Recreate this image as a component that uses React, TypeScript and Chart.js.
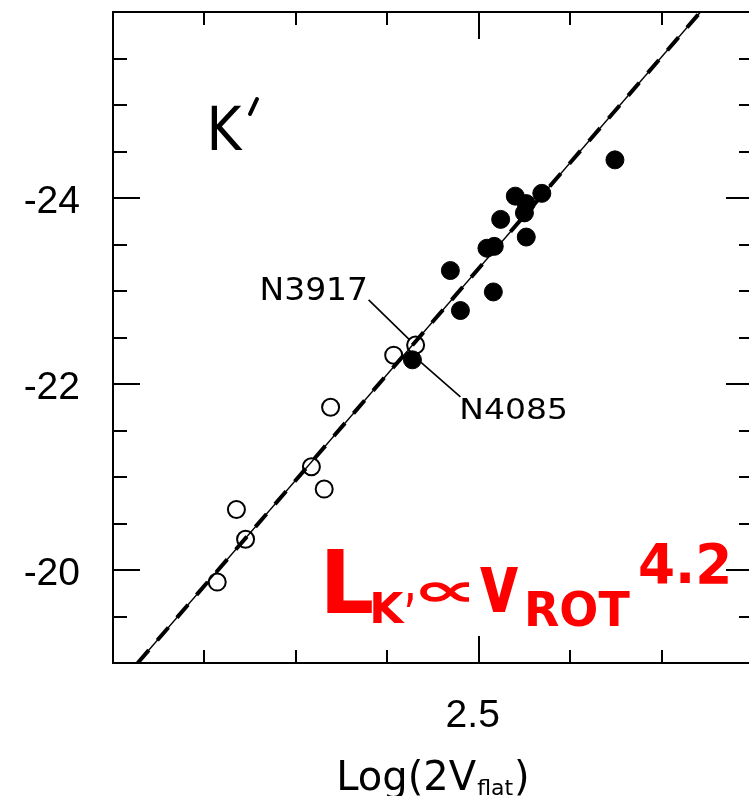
import { useEffect, useRef } from 'react';
import { Chart, registerables } from 'chart.js';

Chart.register(...registerables);

// Tully-Fisher relation in the K' band: absolute magnitude vs log of twice the flat rotation speed.
const openLogV = [2.214, 2.235, 2.245, 2.317, 2.331, 2.338, 2.407, 2.431];
const openMag = [-19.87, -20.65, -20.33, -21.11, -20.87, -21.75, -22.31, -22.42];

const filledLogV = [2.4275, 2.469, 2.480, 2.509, 2.516, 2.517, 2.524, 2.540, 2.550, 2.552, 2.552, 2.569, 2.649];
const filledMag = [-22.26, -23.22, -22.79, -23.46, -22.99, -23.48, -23.77, -24.02, -23.84, -23.94, -23.58, -24.05, -24.41];

// Fitted relation, endpoints where it crosses the frame
const fitLogV = [2.127, 2.7425];
const fitMag = [-19.0, -26.0];

// Named galaxies: the open circle N3917 and the filled circle N4085
const namedLabels = ['N3917', 'N4085'];
const namedLogV = [2.431, 2.4275];
const namedMag = [-22.42, -22.26];

const xLabelValues = [2.5];
const yLabelValues = [-24, -22, -20];

const xMin = 2.1;
const xMax = 2.8;
const yMin = -26;
const yMax = -19;

const toPoints = (xs: number[], ys: number[]) => xs.map((x, i) => ({ x, y: ys[i] }));

const near = (a: number, b: number) => Math.abs(a - b) < 1e-6;

// Fit a text run into a target box using its real ink bounds
function drawBox(ctx: CanvasRenderingContext2D, text: string, font: string, x0: number, y0: number, x1: number, y1: number) {
  ctx.font = font;
  ctx.textAlign = 'left';
  ctx.textBaseline = 'alphabetic';
  const m = ctx.measureText(text);
  const w = m.actualBoundingBoxLeft + m.actualBoundingBoxRight;
  const h = m.actualBoundingBoxAscent + m.actualBoundingBoxDescent;
  ctx.save();
  ctx.translate(x0, y0);
  ctx.scale((x1 - x0) / w, (y1 - y0) / h);
  ctx.fillText(text, m.actualBoundingBoxLeft, m.actualBoundingBoxAscent);
  ctx.restore();
}

const framePlugin = {
  id: 'frameAndNotes',
  afterDatasetsDraw(chart: any) {
    const { ctx, chartArea: a, scales } = chart;
    const xs = scales.x;
    const ys = scales.y;
    ctx.save();
    ctx.strokeStyle = '#000';
    ctx.fillStyle = '#000';
    ctx.lineWidth = 2;
    ctx.strokeRect(a.left, a.top, a.right - a.left, a.bottom - a.top);

    // inward ticks on all four sides
    ctx.lineWidth = 2;
    ctx.beginPath();
    xs.ticks.forEach((t: any) => {
      const px = Math.round(xs.getPixelForValue(t.value));
      const len = xLabelValues.some((v) => near(v, t.value)) ? 27 : 13;
      ctx.moveTo(px, a.bottom);
      ctx.lineTo(px, a.bottom - len);
      ctx.moveTo(px, a.top);
      ctx.lineTo(px, a.top + len);
    });
    ys.ticks.forEach((t: any) => {
      const py = Math.round(ys.getPixelForValue(t.value));
      const len = yLabelValues.some((v) => near(v, t.value)) ? 27 : 14;
      ctx.moveTo(a.left, py);
      ctx.lineTo(a.left + len, py);
      ctx.moveTo(a.right, py);
      ctx.lineTo(a.right - len, py);
    });
    ctx.stroke();

    // leader lines for the named galaxies
    const p0x = xs.getPixelForValue(namedLogV[0]);
    const p0y = ys.getPixelForValue(namedMag[0]);
    const p1x = xs.getPixelForValue(namedLogV[1]);
    const p1y = ys.getPixelForValue(namedMag[1]);
    ctx.lineWidth = 1.6;
    ctx.beginPath();
    ctx.moveTo(p0x - 47, p0y - 45);
    ctx.lineTo(p0x - 6, p0y - 5);
    ctx.moveTo(p1x + 8, p1y + 2);
    ctx.lineTo(p1x + 48, p1y + 37);
    ctx.stroke();

    const lblFont = "32px 'DejaVu Sans'";
    drawBox(ctx, namedLabels[0], lblFont, p0x - 153, p0y - 68, p0x - 50, p0y - 45);
    drawBox(ctx, namedLabels[1], lblFont, p1x + 50, p1y + 38, p1x + 153, p1y + 59);

    // band label
    drawBox(ctx, 'K', "60px 'DejaVu Sans'", a.left + 98, a.top + 93, a.left + 130, a.top + 138);
    ctx.save();
    ctx.lineWidth = 4;
    ctx.lineCap = 'round';
    ctx.beginPath();
    ctx.moveTo(a.left + 144, a.top + 87);
    ctx.lineTo(a.left + 137, a.top + 102);
    ctx.stroke();
    ctx.restore();

    // axis title with subscript
    const cx = (a.left + a.right) / 2;
    const base = 790;
    const big = "40px 'DejaVu Sans'";
    const small = "22px 'DejaVu Sans'";
    ctx.textBaseline = 'alphabetic';
    ctx.textAlign = 'left';
    ctx.font = big;
    const w1 = ctx.measureText('Log(2V').width;
    const w3 = ctx.measureText(')').width;
    ctx.font = small;
    const w2 = ctx.measureText('flat').width;
    let tx = cx - (w1 + w2 + w3 + 2) / 2;
    ctx.font = big;
    ctx.fillText('Log(2V', tx, base);
    tx += w1 + 1;
    ctx.font = small;
    ctx.fillText('flat', tx, base + 5);
    tx += w2 + 1;
    ctx.font = big;
    ctx.fillText(')', tx, base);

    // red scaling-law annotation
    ctx.fillStyle = '#ff0000';
    const rf = "bold 80px 'DejaVu Sans'";
    const L = a.left;
    const T = a.top;
    drawBox(ctx, 'L', rf, L + 214, T + 536, L + 259, T + 601);
    drawBox(ctx, 'K', rf, L + 260, T + 580, L + 292, T + 611);
    drawBox(ctx, '\u2019', rf, L + 294, T + 581, L + 300, T + 595);
    drawBox(ctx, '\u221D', rf, L + 307, T + 570, L + 357, T + 590);
    drawBox(ctx, 'v', rf, L + 367, T + 555, L + 405, T + 600);
    drawBox(ctx, 'ROT', rf, L + 415, T + 578, L + 517, T + 615);
    drawBox(ctx, '4.2', rf, L + 527, T + 530, L + 615, T + 571);
    ctx.restore();
  },
};

// Keep the plot frame where it belongs: no extra room reserved for edge labels
const noEdgePadding = (axis: any) => {
  axis.paddingTop = 0;
  axis.paddingBottom = 0;
  axis.paddingLeft = 0;
  axis.paddingRight = 0;
};

export default function App() {
  const ref = useRef<HTMLCanvasElement | null>(null);

  useEffect(() => {
    if (!ref.current) return;
    const chart = new Chart(ref.current, {
      type: 'scatter',
      data: {
        datasets: [
          {
            label: 'filled',
            data: toPoints(filledLogV, filledMag),
            pointStyle: 'circle',
            pointRadius: 9,
            pointBorderWidth: 1,
            pointBackgroundColor: '#000',
            pointBorderColor: '#000',
          },
          {
            label: 'open',
            data: toPoints(openLogV, openMag),
            pointStyle: 'circle',
            pointRadius: 8.5,
            pointBorderWidth: 2,
            pointBackgroundColor: 'rgba(255,255,255,0)',
            pointBorderColor: '#000',
          },
          {
            type: 'line',
            label: 'fit thin',
            data: toPoints(fitLogV, fitMag),
            borderColor: '#000',
            borderWidth: 1.4,
            pointRadius: 0,
            showLine: true,
          },
          {
            type: 'line',
            label: 'fit dashed',
            data: toPoints(fitLogV, fitMag),
            borderColor: '#000',
            borderWidth: 4,
            borderDash: [17, 13],
            pointRadius: 0,
            showLine: true,
          },
        ],
      },
      options: {
        responsive: false,
        animation: false,
        layout: { padding: { left: 0, top: 12, right: 17, bottom: 0 } },
        plugins: { legend: { display: false }, tooltip: { enabled: false } },
        scales: {
          x: {
            type: 'linear',
            min: xMin,
            max: xMax,
            grid: { display: false, drawTicks: false },
            border: { display: false },
            ticks: {
              stepSize: 0.1,
              autoSkip: false,
              maxRotation: 0,
              padding: 30,
              labelOffset: -6,
              color: '#000',
              font: { family: "'Liberation Sans', Arial, sans-serif", size: 39 },
              callback: (v: any) => (xLabelValues.some((t) => near(t, Number(v))) ? String(v) : ''),
            },
            afterFit: (axis: any) => {
              axis.height = 133;
              noEdgePadding(axis);
            },
          },
          y: {
            type: 'linear',
            min: yMin,
            max: yMax,
            reverse: true,
            grid: { display: false, drawTicks: false },
            border: { display: false },
            ticks: {
              stepSize: 0.5,
              autoSkip: false,
              padding: 33,
              labelOffset: 4,
              color: '#000',
              font: { family: "'Liberation Sans', Arial, sans-serif", size: 39 },
              callback: (v: any) => (yLabelValues.some((t) => near(t, Number(v))) ? String(v) : ''),
            },
            afterFit: (axis: any) => {
              axis.width = 113;
              noEdgePadding(axis);
            },
          },
        },
      },
      plugins: [framePlugin],
    });
    return () => chart.destroy();
  }, []);

  return (
    <div
      style={{
        position: 'fixed',
        left: 0,
        top: 0,
        width: 749,
        height: 796,
        overflow: 'hidden',
        background: '#fff',
      }}
    >
      <canvas ref={ref} width={770} height={796} style={{ display: 'block' }} />
    </div>
  );
}
